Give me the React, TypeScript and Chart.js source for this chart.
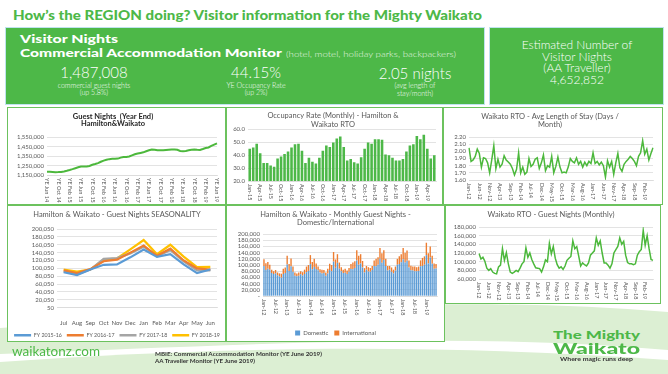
import React, { useEffect, useRef } from 'react';
import { Chart, registerables } from 'chart.js';

Chart.register(...registerables);

const FONT = "Lato, 'Liberation Sans', sans-serif";
const HEAD_FONT = "Lato, 'Open Sans', sans-serif";
const GREEN = '#4db848';
const LINE_GREEN = '#4cb83c';
const TICK = '#595959';
const GRID = '#d9d9d9';
const MONTHS = ['Jan', 'Feb', 'Mar', 'Apr', 'May', 'Jun', 'Jul', 'Aug', 'Sep', 'Oct', 'Nov', 'Dec'];

// ---------- DATA ----------
// Guest Nights (Year End), Hamilton & Waikato, YE Jun 14 .. YE Jun 19 (monthly)
const yeGuestNights = [
  1185000, 1184000, 1182000, 1180000, 1181000, 1183000, 1188000,
  1195000, 1203000, 1212000, 1222000, 1232000, 1240000, 1239000, 1241000, 1246000, 1258000, 1266000, 1276000,
  1290000, 1302000, 1311000, 1318000, 1322000, 1321000, 1324000, 1334000, 1340000, 1342000, 1346000, 1358000,
  1370000, 1378000, 1384000, 1390000, 1402000, 1412000, 1420000, 1418000, 1413000, 1411000, 1412000, 1415000,
  1418000, 1420000, 1419000, 1417000, 1405000, 1402000, 1404000, 1412000, 1418000, 1420000, 1417000, 1415000,
  1425000, 1436000, 1442000, 1458000, 1472000, 1485000,
];
const yeTicks = [1150000, 1250000, 1350000, 1450000, 1550000];

// Occupancy rate (monthly) Jan-15 .. Jun-19
const occupancyRate = [
  45, 46, 49, 41.5, 34, 34, 32, 31, 37.5, 39, 41, 43,
  46, 48.5, 49, 43.5, 34, 38, 35, 33.5, 38, 43.5, 47.5, 46.5,
  50, 53, 54.5, 46.5, 36, 37, 34.5, 33.5, 38.5, 45, 50, 49,
  52.5, 52.5, 52, 40.5, 40, 38, 36, 36, 37, 43, 47.5, 48.5,
  55, 52.5, 56, 45, 37.5, 40,
];

// Avg length of stay (days / month) Jan-12 .. Jun-19
const avgStay = [
  2.05, 1.86, 1.88, 1.93, 2.03, 1.97, 1.78, 1.91, 1.90, 1.84, 1.70, 1.88,
  2.08, 1.76, 1.89, 1.78, 1.82, 1.94, 1.88, 1.85, 1.82, 1.76, 1.67, 1.75,
  1.98, 1.70, 1.78, 1.68, 1.71, 1.90, 1.79, 1.82, 1.89, 1.91, 1.76, 1.84,
  1.95, 1.73, 1.80, 1.78, 1.93, 1.70, 1.79, 1.92, 1.78, 1.70, 1.71, 1.70,
  1.78, 1.90, 1.86, 1.84, 1.91, 1.82, 1.86, 1.78, 1.85, 1.80, 1.86, 1.83,
  1.98, 1.83, 1.86, 1.81, 1.85, 1.80, 1.64, 1.87, 1.78, 1.86, 1.68, 1.84,
  1.97, 1.77, 1.72, 1.82, 1.86, 1.89, 1.93, 1.90, 1.86, 1.80, 1.93, 1.98,
  2.15, 1.96, 2.03, 1.88, 1.97, 2.05,
];

// Seasonality Jul..Jun
const seasonMonths = ['Jul', 'Aug', 'Sep', 'Oct', 'Nov', 'Dec', 'Jan', 'Feb', 'Mar', 'Apr', 'May', 'Jun'];
const fy1516 = [90000, 83000, 97000, 109000, 110000, 128000, 148000, 129000, 136000, 110000, 88000, 97000];
const fy1617 = [95000, 88000, 98000, 118000, 122000, 140000, 158000, 132000, 150000, 120000, 100000, 97000];
const fy1718 = [92000, 85000, 97000, 124000, 126000, 138000, 155000, 131000, 146000, 118000, 95000, 95000];
const fy1819 = [97000, 92000, 97000, 122000, 125000, 148000, 172000, 136000, 160000, 130000, 103000, 104000];
const seasonTickLabels = ['50', '20,050', '40,050', '60,050', '80,050', '100,050', '120,050', '140,050', '160,050', '180,050', '200,050'];

// Monthly guest nights Jan-12 .. Jun-19, domestic / international
const domesticNights = [
  97000, 84000, 88000, 85000, 74000, 71000, 73000, 67000, 63000, 59000, 71000, 74000,
  102000, 81000, 96000, 78000, 65000, 64000, 65000, 70000, 66000, 71000, 77000, 81000,
  103000, 86000, 94000, 87000, 83000, 76000, 73000, 74000, 65000, 73000, 84000, 80000,
  111000, 91000, 107000, 88000, 80000, 74000, 75000, 71000, 78000, 87000, 86000, 90000,
  115000, 101000, 105000, 92000, 76000, 85000, 79000, 78000, 84000, 97000, 96000, 101000,
  120000, 107000, 116000, 97000, 82000, 85000, 78000, 73000, 82000, 101000, 103000, 109000,
  119000, 108000, 114000, 92000, 83000, 82000, 80000, 80000, 81000, 96000, 97000, 101000,
  132000, 105000, 124000, 104000, 88000, 89000,
];
const internationalNights = [
  22000, 22000, 22000, 16000, 11000, 9000, 11000, 9000, 10000, 13000, 17000, 18000,
  28000, 22000, 25000, 17000, 11000, 9000, 11000, 10000, 11000, 14000, 18000, 19000,
  29000, 24000, 26000, 18000, 12000, 10000, 12000, 10000, 11000, 15000, 20000, 20000,
  31000, 27000, 28000, 20000, 13000, 11000, 13000, 11000, 12000, 16000, 22000, 22000,
  33000, 29000, 30000, 21000, 14000, 12000, 14000, 12000, 13000, 18000, 24000, 24000,
  35000, 31000, 32000, 23000, 15000, 12000, 14000, 12000, 13000, 19000, 25000, 26000,
  36000, 32000, 33000, 23000, 15000, 13000, 15000, 13000, 14000, 19000, 26000, 27000,
  40000, 33000, 36000, 26000, 17000, 14000,
];

// Waikato RTO guest nights (monthly) Jan-12 .. Jun-19
const rtoGuestNights = [
  119000, 106000, 110000, 101000, 85000, 80000, 84000, 76000, 73000, 72000, 88000, 92000,
  130000, 103000, 121000, 95000, 76000, 73000, 76000, 80000, 77000, 85000, 95000, 100000,
  132000, 110000, 120000, 105000, 95000, 86000, 85000, 84000, 76000, 88000, 104000, 100000,
  142000, 118000, 135000, 108000, 93000, 85000, 88000, 82000, 90000, 103000, 108000, 112000,
  148000, 130000, 135000, 113000, 90000, 97000, 93000, 90000, 97000, 115000, 120000, 125000,
  155000, 138000, 148000, 120000, 97000, 97000, 92000, 85000, 95000, 120000, 128000, 135000,
  155000, 140000, 147000, 115000, 98000, 95000, 95000, 93000, 95000, 115000, 123000, 128000,
  172000, 138000, 160000, 130000, 105000, 103000,
];

// ---------- helpers ----------
function monthSeq(startYear: number, startMonth: number, count: number, fmt: (m: string, yy: string) => string) {
  const out: string[] = [];
  for (let i = 0; i < count; i++) {
    const t = startMonth + i;
    const y = startYear + Math.floor(t / 12);
    out.push(fmt(MONTHS[t % 12], String(y % 100).padStart(2, '0')));
  }
  return out;
}

const yeCategories = monthSeq(2014, 5, yeGuestNights.length, (m, y) => `YE ${m} ${y}`);
const occCategories = monthSeq(2015, 0, occupancyRate.length, (m, y) => `${m}-${y}`);
const stayCategories = monthSeq(2012, 0, avgStay.length, (m, y) => `${m}-${y}`);
const domIntCategories = monthSeq(2012, 0, domesticNights.length, (m, y) => `${m}-${y}`);
const rtoCategories = monthSeq(2012, 0, rtoGuestNights.length, (m, y) => `${m}-${y}`);

const fmtNum = (v: number) => Math.round(v).toLocaleString('en-US');

const vLabels = {
  id: 'vLabels',
  afterDraw(chart: any, _args: any, opts: any) {
    if (!opts || !opts.every) return;
    const x = chart.scales.x;
    const ctx = chart.ctx;
    ctx.save();
    ctx.font = `${opts.size || 5.5}px ${FONT}`;
    ctx.fillStyle = TICK;
    ctx.textAlign = 'left';
    ctx.textBaseline = 'middle';
    (chart.data.labels as string[]).forEach((l, i) => {
      if (i % opts.every !== 0) return;
      const px = x.getPixelForValue(i);
      ctx.save();
      ctx.translate(px, chart.chartArea.bottom + (opts.gap || 3));
      ctx.rotate(Math.PI / 2);
      ctx.fillText(l, 0, 0);
      ctx.restore();
    });
    ctx.restore();
  },
};

const yScale = (min: number, max: number, step: number, fmt: (v: number) => string, width: number) => ({
  min,
  max,
  ticks: { stepSize: step, autoSkip: false, callback: (v: any) => fmt(Number(v)), font: { size: 6, family: FONT }, color: TICK, padding: 3 },
  grid: { color: GRID, lineWidth: 0.75, drawTicks: false },
  border: { display: false },
  afterFit: (s: any) => { s.width = width; },
});

const xHidden = (height: number, offset: boolean) => ({
  offset,
  ticks: { display: false },
  grid: { display: false },
  border: { display: true, color: GRID, width: 0.75 },
  afterFit: (s: any) => { s.height = height; },
});

const titleOpts = (text: string[], size: number, lh: number, top: number, bottom: number, bold = false, color = TICK) => ({
  display: true,
  text,
  color,
  font: { size, family: FONT, weight: bold ? 'bold' : 'normal', lineHeight: lh },
  padding: { top, bottom },
});

function ChartBox({ left, top, width, height, config }: any) {
  const ref = useRef<HTMLCanvasElement>(null);
  useEffect(() => {
    const chart = new Chart(ref.current as HTMLCanvasElement, config);
    return () => chart.destroy();
  }, []);
  return (
    <div style={{ position: 'absolute', left, top, width, height }}>
      <canvas ref={ref} width={width} height={height} style={{ width, height, display: 'block' }} />
    </div>
  );
}

function Panel({ left, top, width, height }: any) {
  return (
    <div style={{ position: 'absolute', left, top, width, height, boxSizing: 'border-box', border: '1.5px solid #6cc25e', background: '#fff' }} />
  );
}

function Fit({ x, y, w, size, weight = 400, color = '#fff', family = HEAD_FONT, children }: any) {
  const ref = useRef<HTMLDivElement>(null);
  useEffect(() => {
    const el = ref.current;
    if (!el) return;
    el.style.transform = 'none';
    const actual = el.getBoundingClientRect().width;
    if (actual > 0) el.style.transform = `scaleX(${w / actual})`;
  }, []);
  return (
    <div ref={ref} style={{ position: 'absolute', left: x, top: y - size * 0.6, fontSize: size, lineHeight: 1.2, fontWeight: weight, color, fontFamily: family, whiteSpace: 'nowrap', transformOrigin: 'left center', display: 'inline-block' }}>
      {children}
    </div>
  );
}

function Txt({ x, y, size, weight = 400, color = '#fff', family = HEAD_FONT, align = 'center', children }: any) {
  const left = align === 'center' ? x - 150 : x;
  return (
    <div style={{ position: 'absolute', left, top: y - size * 0.6, width: align === 'center' ? 300 : undefined, textAlign: align, fontSize: size, lineHeight: 1.2, fontWeight: weight, color, fontFamily: family, whiteSpace: 'nowrap' }}>
      {children}
    </div>
  );
}

// ---------- chart configs ----------
const cfgYE: any = {
  type: 'line',
  data: { labels: yeCategories, datasets: [{ data: yeGuestNights, borderColor: LINE_GREEN, borderWidth: 2, pointRadius: 0, tension: 0 }] },
  options: {
    animation: false, responsive: false,
    layout: { padding: { left: 2, right: 9, top: 0, bottom: 5 } },
    plugins: {
      legend: { display: false }, tooltip: { enabled: false },
      title: titleOpts(['Guest Nights  (Year End)', 'Hamilton&Waikato'], 7.5, 0.95, 6, 10, true, '#262626'),
      vLabels: { every: 4, gap: 3, size: 5.5 },
    },
    scales: {
      x: xHidden(25, false),
      y: { ...yScale(1150000, 1550000, 100000, fmtNum, 38), afterBuildTicks: (s: any) => { s.ticks = yeTicks.map((v) => ({ value: v })); } },
    },
  },
  plugins: [vLabels],
};

const cfgOcc: any = {
  type: 'bar',
  data: { labels: occCategories, datasets: [{ data: occupancyRate, backgroundColor: GREEN, barPercentage: 0.78, categoryPercentage: 0.95 }] },
  options: {
    animation: false, responsive: false,
    layout: { padding: { left: 4, right: 6, top: 0, bottom: 0 } },
    plugins: {
      legend: { display: false }, tooltip: { enabled: false },
      title: titleOpts(['Occupancy Rate (Monthly) - Hamilton &', 'Waikato RTO'], 7.5, 1.2, 4.5, 0),
      vLabels: { every: 3, gap: 3, size: 5.5 },
    },
    scales: { x: xHidden(24, true), y: yScale(20, 60, 10, (v) => v.toFixed(1), 18) },
  },
  plugins: [vLabels],
};

const cfgStay: any = {
  type: 'line',
  data: { labels: stayCategories, datasets: [{ data: avgStay, borderColor: LINE_GREEN, borderWidth: 1.5, pointRadius: 0, tension: 0 }] },
  options: {
    animation: false, responsive: false,
    layout: { padding: { left: 4, right: 10, top: 0, bottom: 0 } },
    plugins: {
      legend: { display: false }, tooltip: { enabled: false },
      title: titleOpts(['Waikato RTO - Avg Length of Stay (Days /', 'Month)'], 7.5, 1.07, 6, 8),
      vLabels: { every: 5, gap: 3, size: 5.5 },
    },
    scales: { x: xHidden(25, false), y: yScale(1.6, 2.2, 0.1, (v) => v.toFixed(2), 22) },
  },
  plugins: [vLabels],
};

const legendNoStroke = (chart: any) =>
  (Chart.defaults.plugins.legend.labels.generateLabels as any)(chart).map((l: any) => ({ ...l, lineWidth: 0 }));

const cfgSeason: any = {
  type: 'line',
  data: {
    labels: seasonMonths,
    datasets: [
      { label: 'FY 2015-16', data: fy1516, borderColor: '#5b9bd5', backgroundColor: '#5b9bd5', borderWidth: 2.2, pointRadius: 0, tension: 0 },
      { label: 'FY 2016-17', data: fy1617, borderColor: '#ed7d31', backgroundColor: '#ed7d31', borderWidth: 2.2, pointRadius: 0, tension: 0 },
      { label: 'FY 2017-18', data: fy1718, borderColor: '#a5a5a5', backgroundColor: '#a5a5a5', borderWidth: 2.2, pointRadius: 0, tension: 0 },
      { label: 'FY 2018-19', data: fy1819, borderColor: '#ffc000', backgroundColor: '#ffc000', borderWidth: 2.2, pointRadius: 0, tension: 0 },
    ],
  },
  options: {
    animation: false, responsive: false,
    layout: { padding: { left: 1, right: 0, top: 0, bottom: 0 } },
    plugins: {
      tooltip: { enabled: false },
      title: titleOpts(['Hamilton & Waikato - Guest Nights SEASONALITY'], 7.5, 1.2, 5.5, 9.5),
      legend: {
        position: 'bottom',
        labels: { boxWidth: 17, boxHeight: 2.5, font: { size: 5.3, family: FONT }, color: TICK, padding: 5, generateLabels: legendNoStroke },
      },
    },
    scales: {
      x: {
        offset: true,
        ticks: { font: { size: 6, family: FONT }, color: TICK, maxRotation: 0, minRotation: 0, autoSkip: false, padding: 4 },
        grid: { display: false },
        border: { display: true, color: GRID, width: 0.75 },
        afterFit: (s: any) => { s.height = 20; s.paddingRight = 9; },
      },
      y: yScale(0, 200000, 20000, (v) => seasonTickLabels[Math.round(v / 20000)], 49),
    },
  },
};

const cfgDomInt: any = {
  type: 'bar',
  data: {
    labels: domIntCategories,
    datasets: [
      { label: 'Domestic', data: domesticNights, backgroundColor: '#5b9bd5', barPercentage: 0.72, categoryPercentage: 1 },
      { label: 'International', data: internationalNights, backgroundColor: '#ed7d31', barPercentage: 0.72, categoryPercentage: 1 },
    ],
  },
  options: {
    animation: false, responsive: false,
    layout: { padding: { left: 8, right: 8, top: 0, bottom: 0 } },
    plugins: {
      tooltip: { enabled: false },
      title: titleOpts(['Hamilton & Waikato - Monthly Guest Nights -', 'Domestic/International'], 7.5, 1.07, 6, 7),
      legend: {
        position: 'bottom',
        labels: { boxWidth: 5, boxHeight: 5, font: { size: 6, family: FONT }, color: TICK, padding: 6 },
      },
      vLabels: { every: 6, gap: 3, size: 5.5 },
    },
    scales: {
      x: { ...xHidden(28, true), stacked: true },
      y: { ...yScale(0, 200000, 20000, (v) => (v === 0 ? '-' : fmtNum(v)), 29), stacked: true },
    },
  },
  plugins: [vLabels],
};

const cfgRto: any = {
  type: 'line',
  data: { labels: rtoCategories, datasets: [{ data: rtoGuestNights, borderColor: LINE_GREEN, borderWidth: 1.5, pointRadius: 0, tension: 0 }] },
  options: {
    animation: false, responsive: false,
    layout: { padding: { left: 4, right: 8, top: 0, bottom: 0 } },
    plugins: {
      legend: { display: false }, tooltip: { enabled: false },
      title: titleOpts(['Waikato RTO - Guest Nights (Monthly)'], 7.5, 1.2, 5.5, 7.5),
      vLabels: { every: 5, gap: 3, size: 5.5 },
    },
    scales: { x: xHidden(25, false), y: yScale(60000, 180000, 20000, fmtNum, 30) },
  },
  plugins: [vLabels],
};

export default function App() {
  return (
    <div style={{ position: 'absolute', left: 0, top: 0, width: 668, height: 374, background: '#fff', overflow: 'hidden', fontFamily: HEAD_FONT }}>
      <svg width={668} height={374} style={{ position: 'absolute', left: 0, top: 0 }}>
        <path d="M0,328 C180,316 420,292 668,312 L668,350 C470,332 260,344 0,354 Z" fill="#dcefd3" />
        <path d="M0,362 C200,348 420,342 668,360 L668,374 L0,374 Z" fill="#dcefd3" />
      </svg>

      <Fit x={13} y={15} w={469} size={14} weight={900} color={GREEN}>How’s the REGION doing? Visitor information for the Mighty Waikato</Fit>

      <div style={{ position: 'absolute', left: 6, top: 28, width: 478, height: 76, background: GREEN, boxSizing: 'border-box', outline: '1px solid #bfe3ee' }} />
      <div style={{ position: 'absolute', left: 490, top: 28, width: 173, height: 76, background: GREEN, boxSizing: 'border-box', outline: '1px solid #bfe3ee' }} />

      <Fit x={20} y={39} w={98} size={12} weight={900}>Visitor Nights</Fit>
      <Fit x={20} y={53} w={262} size={12} weight={900}>Commercial Accommodation Monitor</Fit>
      <Fit x={286} y={54} w={170} size={7} weight={300} color="#e8f6e4">(hotel, motel, holiday parks, backpackers)</Fit>

      <Txt x={94} y={72} size={15} weight={300}>1,487,008</Txt>
      <Txt x={94} y={85} size={7} weight={300}>commercial guest nights</Txt>
      <Txt x={94} y={92} size={7} weight={300}>(up 5.8%)</Txt>

      <Txt x={256} y={72} size={15} weight={300}>44.15%</Txt>
      <Txt x={256} y={85} size={7} weight={300}>YE Occupancy Rate</Txt>
      <Txt x={256} y={92} size={7} weight={300}>(up 2%)</Txt>

      <Txt x={415} y={73} size={15} weight={300}>2.05 nights</Txt>
      <Txt x={415} y={85} size={7} weight={300}>(avg length of</Txt>
      <Txt x={415} y={93} size={7} weight={300}>stay/month)</Txt>

      <Txt x={577} y={45} size={12} weight={300}>Estimated Number of</Txt>
      <Txt x={577} y={57} size={12} weight={300}>Visitor Nights</Txt>
      <Txt x={577} y={68.5} size={12} weight={300}>(AA Traveller)</Txt>
      <Txt x={577} y={80} size={12} weight={300}>4,652,852</Txt>

      <Panel left={7} top={107} width={219} height={98} />
      <Panel left={226} top={107} width={217} height={98} />
      <Panel left={443} top={107} width={220} height={98} />
      <Panel left={7} top={205} width={219} height={137} />
      <Panel left={226} top={205} width={219} height={137} />
      <Panel left={445} top={205} width={216} height={99} />

      <ChartBox left={7} top={107} width={219} height={98} config={cfgYE} />
      <ChartBox left={226} top={107} width={216} height={98} config={cfgOcc} />
      <ChartBox left={443} top={107} width={220} height={98} config={cfgStay} />
      <ChartBox left={7} top={205} width={219} height={143} config={cfgSeason} />
      <ChartBox left={226} top={205} width={219} height={141} config={cfgDomInt} />
      <ChartBox left={445} top={205} width={216} height={99} config={cfgRto} />

      <Fit x={12} y={352} w={88} size={13} weight={400} color={GREEN}>waikatonz.com</Fit>
      <Fit x={155} y={354} w={167} size={6} weight={700} color="#333">MBIE: Commercial Accommodation Monitor (YE June 2019)</Fit>
      <Fit x={155} y={361} w={100} size={6} weight={700} color="#333">AA Traveller Monitor (YE June 2019)</Fit>

      <Fit x={553} y={335} w={87} size={12} weight={900} color={GREEN}>The Mighty</Fit>
      <Fit x={553} y={347.5} w={87} size={15} weight={900} color={GREEN}>Waikato</Fit>
      <Fit x={560} y={359} w={73} size={6} weight={700} color="#333">Where magic runs deep</Fit>
    </div>
  );
}
